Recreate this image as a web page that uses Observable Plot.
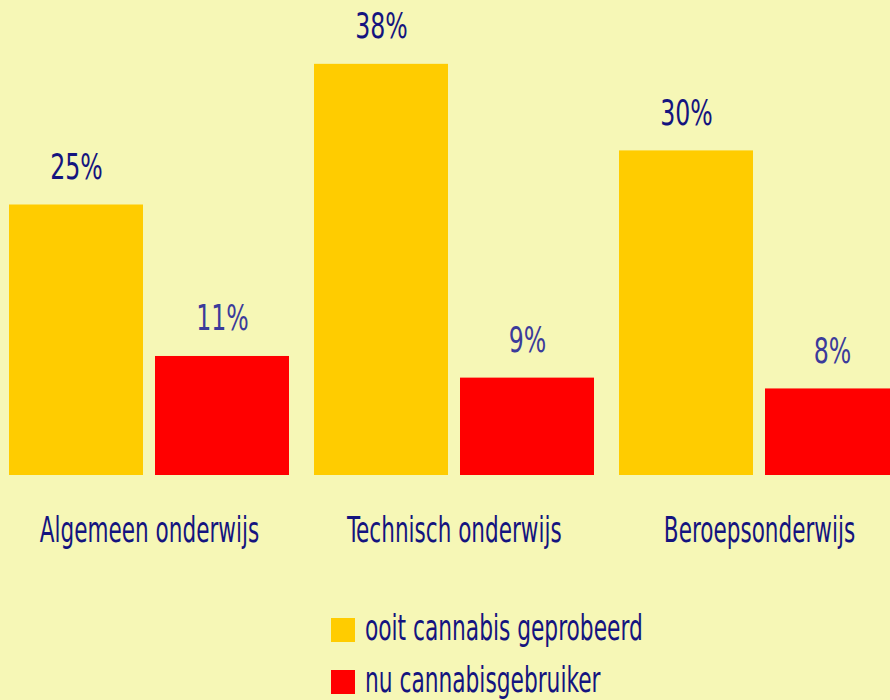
<!DOCTYPE html>
<html>
<head>
<meta charset="utf-8">
<script src="https://cdn.jsdelivr.net/npm/d3@7"></script>
<script src="https://cdn.jsdelivr.net/npm/@observablehq/plot@0.6"></script>
<style>
  html, body { margin: 0; padding: 0; background: #f6f7b6; overflow: hidden; width: 890px; height: 700px; }
  #wrap { position: relative; width: 890px; height: 700px; overflow: hidden; }
  #chart { position: absolute; left: 0; top: 0; width: 890px; height: 600px; }
  .legend { position: absolute; left: 331px; top: 0; width: 400px; height: 700px; font-family: "DejaVu Sans Condensed", "Liberation Sans Narrow", sans-serif; font-size: 35px; color: #14147f; }
  .legend .item { position: absolute; left: 0; width: 360px; height: 34px; white-space: nowrap; }
  .legend .sw { position: absolute; left: 0; top: 7px; width: 24px; height: 24px; }
  .legend .lbl { position: absolute; left: 34px; top: 0; height: 34px; line-height: 34px; transform: scaleX(0.69); transform-origin: left center; }
</style>
</head>
<body>
<div id="wrap">
  <div id="chart"></div>
  <div class="legend" id="legend"></div>
</div>
<script>
const categories = ["Algemeen onderwijs", "Technisch onderwijs", "Beroepsonderwijs"];
const series = ["ooit cannabis geprobeerd", "nu cannabisgebruiker"];
const everTried = [25, 38, 30];
const currentUser = [11, 9, 8];
const seriesColors = ["#ffcc00", "#ff0000"];

const data = [];
categories.forEach((c, i) => {
  data.push({category: c, series: series[0], value: everTried[i]});
  data.push({category: c, series: series[1], value: currentUser[i]});
});

const font = '"DejaVu Sans Condensed", "Liberation Sans Narrow", sans-serif';
const navy = "#14147f";

const chart = Plot.plot({
  width: 890,
  height: 600,
  marginLeft: 9,
  marginRight: -9,
  marginTop: 42.2,
  marginBottom: 125,
  style: {background: "transparent", fontFamily: font, overflow: "hidden", maxWidth: "none"},
  fx: {domain: categories, paddingInner: 25 / 305, paddingOuter: 0, axis: null, label: null},
  x: {domain: series, paddingInner: 12 / 146, paddingOuter: 0, axis: null},
  y: {domain: [0, 40], axis: null},
  color: {domain: series, range: seriesColors},
  marks: [
    Plot.barY(data, {fx: "category", x: "series", y: "value", fill: "series"}),
    Plot.text(data.filter(d => d.series === series[0]), {
      fx: "category", x: "series", y: "value", text: d => d.value + "%",
      lineAnchor: "bottom", dy: -26, fontSize: 36, fill: navy, className: "vlab"
    }),
    Plot.text(data.filter(d => d.series === series[1]), {
      fx: "category", x: "series", y: "value", text: d => d.value + "%",
      lineAnchor: "bottom", dy: -26, fontSize: 36, fill: "#3b3b9b", className: "vlab"
    }),
    Plot.text(categories, {
      fx: d => d, text: d => d, frameAnchor: "bottom", lineAnchor: "top", dy: 42,
      fontSize: 35, fill: navy, className: "clab"
    })
  ]
});
document.getElementById("chart").appendChild(chart);

// horizontally condense text around its centre (the reference uses a very narrow typeface)
function squeeze(sel, f) {
  chart.querySelectorAll(sel).forEach(t => {
    const g = document.createElementNS("http://www.w3.org/2000/svg", "g");
    t.parentNode.insertBefore(g, t);
    g.appendChild(t);
    const b = g.getBBox();
    const cx = b.x + b.width / 2;
    g.setAttribute("transform", `translate(${cx},0) scale(${f},1) translate(${-cx},0)`);
  });
}
squeeze(".vlab text", 0.73);
squeeze(".clab text", 0.685);

const legend = document.getElementById("legend");
const rowTops = [611, 663];
series.forEach((s, i) => {
  const item = document.createElement("div");
  item.className = "item";
  item.style.top = rowTops[i] + "px";
  const sw = document.createElement("div");
  sw.className = "sw";
  sw.style.background = seriesColors[i];
  const lbl = document.createElement("div");
  lbl.className = "lbl";
  lbl.textContent = s;
  item.appendChild(sw);
  item.appendChild(lbl);
  legend.appendChild(item);
});
</script>
</body>
</html>
